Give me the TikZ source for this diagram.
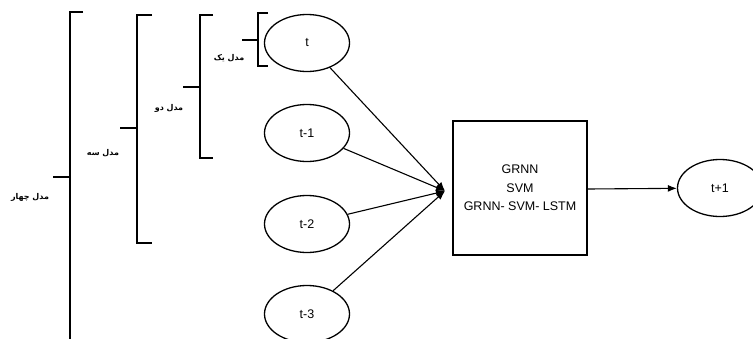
\documentclass[tikz,border=0pt]{standalone}
\usepackage{fontspec}
\setmainfont{Liberation Sans}
\newfontfamily\arabicfont[Script=Arabic]{DejaVu Sans}
\TeXXeTstate=1
\usetikzlibrary{arrows.meta,shapes.geometric}
\begin{document}
\begin{tikzpicture}[x=1pt,y=-1pt,
  ell/.style={draw,line width=1.3pt,ellipse,minimum width=85pt,minimum height=57pt,inner sep=0pt,font=\fontsize{12.5}{14}\selectfont},
  model/.style={draw,line width=1.3pt,minimum width=134pt,minimum height=134pt,inner sep=0pt,align=center,font=\fontsize{12.5}{18.5}\selectfont},
  conn/.style={line width=1.1pt,-{Latex[length=9pt,width=7pt]}},
  brk/.style={line width=1.4pt},
  plabel/.style={font=\arabicfont\bfseries\fontsize{8}{9}\selectfont,inner sep=0pt}]
\useasboundingbox (0,0) rectangle (753,338);
\clip (0,0) rectangle (753,338);
% input ellipses
\node[ell] (t0) at (307,43) {t};
\node[ell] (t1) at (307,133) {t-1};
\node[ell] (t2) at (307,224) {t-2};
\node[ell] (t3) at (307,314) {t-3};
% model box
\node[model] (box) at (520,188) {GRNN\\SVM\\GRNN- SVM- LSTM};
\coordinate (hub) at (445,191);
% output
\node[ell] (out) at (720,188) {t+1};
% connectors
\draw[conn] (t0) -- (hub);
\draw[conn] (t1) -- (hub);
\draw[conn] (t2) -- (hub);
\draw[conn] (t3) -- (hub);
\draw[conn] (box.east |- 0,189) -- (out);
% brackets
\draw[brk] (83,12) -- (70,12) -- (70,340);
\draw[brk] (53,177) -- (70,177);
\draw[brk] (152,15) -- (137,15) -- (137,243) -- (152,243);
\draw[brk] (120,128) -- (137,128);
\draw[brk] (213,15) -- (200,15) -- (200,158) -- (213,158);
\draw[brk] (183,87) -- (200,87);
\draw[brk] (268,13) -- (258,13) -- (258,66) -- (268,66);
\draw[brk] (242,40) -- (258,40);
% labels
\node[plabel] (l4) at (30,197) {\beginR مدل چهار\endR};
\node[plabel] (l3) at (103,153) {\beginR مدل سه\endR};
\node[plabel] (l2) at (169,108) {\beginR مدل دو\endR};
\node[plabel] (l1) at (229,58) {\beginR مدل یک\endR};
\end{tikzpicture}
\end{document}
